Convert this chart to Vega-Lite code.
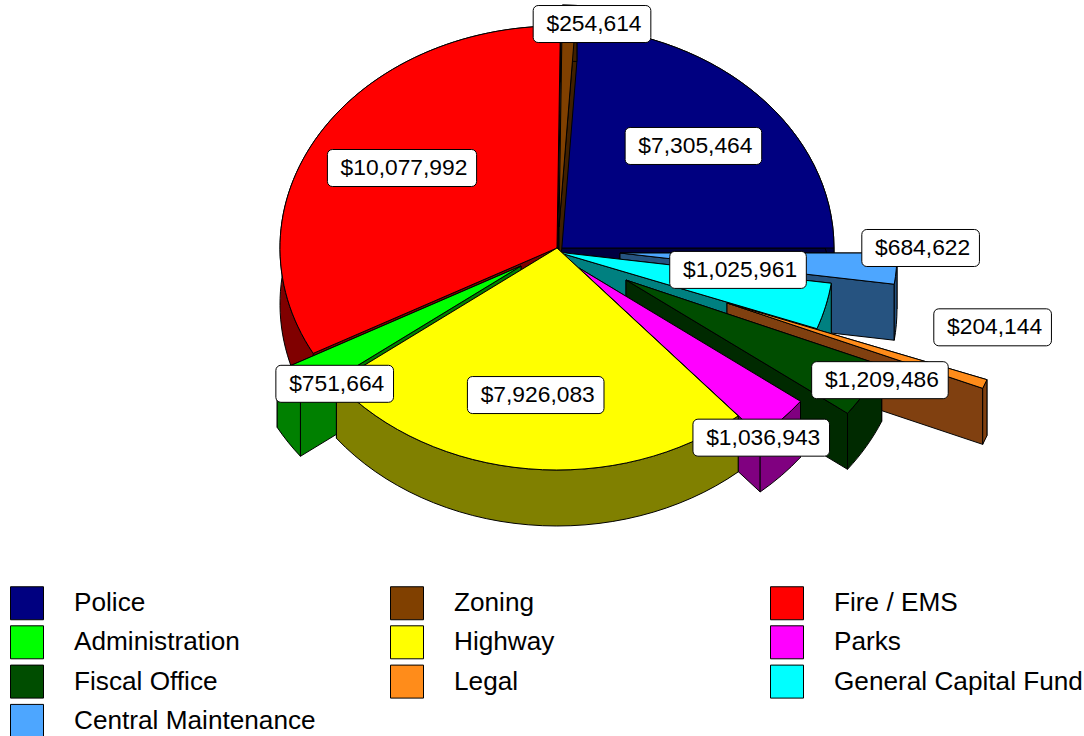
{
"$schema":"https://vega.github.io/schema/vega-lite/v6.json",
"width":1084,"height":736,"padding":0,"autosize":{"type":"none"},"background":"white",
"view":{"stroke":null},
"config":{"font":"Liberation Sans"},
"data":{"values":[
{"dept":"Police","value":7305464},
{"dept":"Zoning","value":254614},
{"dept":"Fire / EMS","value":10077992},
{"dept":"Administration","value":751664},
{"dept":"Highway","value":7926083},
{"dept":"Parks","value":1036943},
{"dept":"Fiscal Office","value":1209486},
{"dept":"Legal","value":204144},
{"dept":"General Capital Fund","value":1025961},
{"dept":"Central Maintenance","value":684622}
]},
"transform":[
{"window":[{"op":"sum","field":"value","as":"cum"},{"op":"row_number","as":"i"}]},
{"joinaggregate":[{"op":"sum","field":"value","as":"total"}]},
{"calculate":"(90-360*(datum.cum-datum.value)/datum.total)*PI/180","as":"a1"},
{"calculate":"(90-360*datum.cum/datum.total)*PI/180","as":"a2"},
{"calculate":"(datum.a1+datum.a2)/2","as":"am"},
{"calculate":"[0,2,0,-36,0,22,69,170,0,63][datum.i-1]","as":"ox"},
{"calculate":"[0,-21,0,18,0,20,32,55,4,5][datum.i-1]","as":"oy"},
{"calculate":"[0.675,3.1,0.654,0.80,0.74,0.90,1.056,1.03,0.674,1.088][datum.i-1]","as":"kx"},
{"calculate":"[0.672,0.915,0.696,0.98,0.666,1.12,0.909,0.30,0.33,-0.32][datum.i-1]","as":"ky"},
{"calculate":"557+datum.ox+datum.kx*277*sin(datum.am)","as":"lx"},
{"calculate":"248+datum.oy-datum.ky*222*cos(datum.am)","as":"ly"},
{"calculate":"'$'+format(datum.value,',')","as":"label"},
{"calculate":"(length(datum.label)-(length(datum.label)>8?2:1))*12.62+(length(datum.label)>8?2:1)*6.31+23","as":"bw"},
{"calculate":"datum.lx-datum.bw/2","as":"bx1"},
{"calculate":"datum.lx+datum.bw/2","as":"bx2"},
{"calculate":"datum.ly-18.5","as":"by1"},
{"calculate":"datum.ly+18.5","as":"by2"}
],
"layer":[
{"transform":[
{"calculate":"15+datum.ox","as":"bx"},
{"calculate":"-120+datum.oy","as":"by"},
{"calculate":"round((datum.bx+277*sin(datum.a1))*100)/100","as":"x1"},
{"calculate":"round((datum.by-222*cos(datum.a1))*100)/100","as":"y1"},
{"calculate":"round((datum.bx+277*sin(datum.a2))*100)/100","as":"x2"},
{"calculate":"round((datum.by-222*cos(datum.a2))*100)/100","as":"y2"},
{"calculate":"['cutA','cutB','strip','top']","as":"part"},
{"flatten":["part"]},
{"calculate":"datum.part==='top'?'M'+datum.bx+' '+datum.by+'L'+datum.x1+' '+datum.y1+'A277 222 0 0 0 '+datum.x2+' '+datum.y2+'Z':datum.part==='strip'?'M'+datum.x1+' '+datum.y1+'A277 222 0 0 0 '+datum.x2+' '+datum.y2+'L'+datum.x2+' '+(datum.y2+56)+'A277 222 0 0 1 '+datum.x1+' '+(datum.y1+56)+'Z':datum.part==='cutA'?'M'+datum.bx+' '+datum.by+'L'+datum.x1+' '+datum.y1+'L'+datum.x1+' '+(datum.y1+56)+'L'+datum.bx+' '+(datum.by+56)+'Z':'M'+datum.bx+' '+datum.by+'L'+datum.x2+' '+datum.y2+'L'+datum.x2+' '+(datum.y2+56)+'L'+datum.bx+' '+(datum.by+56)+'Z'","as":"path"},
{"calculate":"[0,2,1,8,9,7,6,5,4,3][datum.i-1]*10+(datum.part==='top'?3:datum.part==='strip'?2:datum.part==='cutA'?(datum.y1<datum.y2?0:1):(datum.y1<datum.y2?1:0))","as":"z"},
{"calculate":"datum.part==='top'?datum.dept:datum.dept+' side'","as":"key"}
],
"mark":{"type":"point","filled":true,"opacity":1,"stroke":"#000000","strokeWidth":1,"strokeOpacity":1,"size":4},
"encoding":{
"shape":{"field":"path","type":"nominal","scale":null},
"order":{"field":"z","type":"quantitative"},
"color":{"field":"key","type":"nominal",
"scale":{"domain":["Police","Zoning","Fire / EMS","Administration","Highway","Parks","Fiscal Office","Legal","General Capital Fund","Central Maintenance","Police side","Zoning side","Fire / EMS side","Administration side","Highway side","Parks side","Fiscal Office side","Legal side","General Capital Fund side","Central Maintenance side"],
"range":["#000080","#804000","#ff0000","#00ff00","#ffff00","#ff00ff","#004d00","#ff8c1a","#00ffff","#4da6ff","#000040","#402000","#800000","#008000","#808000","#800080","#002a00","#804010","#008080","#265380"]},
"legend":{"values":["Police","Zoning","Fire / EMS","Administration","Highway","Parks","Fiscal Office","Legal","General Capital Fund","Central Maintenance"],
"title":null,"orient":"none","direction":"horizontal","legendX":10,"legendY":586,"columns":3,"gridAlign":"all","columnPadding":65,"rowPadding":1.3,
"symbolType":"square","symbolSize":1089,"symbolStrokeColor":"#000000","symbolStrokeWidth":1,"symbolOpacity":1,
"labelFont":"Liberation Sans","labelFontSize":26.2,"labelColor":"#000000","labelOffset":30,"labelLimit":400,"padding":0}}
}},
{"mark":{"type":"rect","fill":"#ffffff","stroke":"#000000","strokeWidth":1,"cornerRadius":5},
"encoding":{
"x":{"field":"bx1","type":"quantitative","scale":null},
"x2":{"field":"bx2"},
"y":{"field":"by1","type":"quantitative","scale":null},
"y2":{"field":"by2"}
}},
{"mark":{"type":"text","font":"Liberation Sans","fontSize":22.8,"color":"#000000","align":"center","baseline":"middle","dx":2},
"encoding":{
"x":{"field":"lx","type":"quantitative","scale":null},
"y":{"field":"ly","type":"quantitative","scale":null},
"text":{"field":"label","type":"nominal"}
}}
]
}
